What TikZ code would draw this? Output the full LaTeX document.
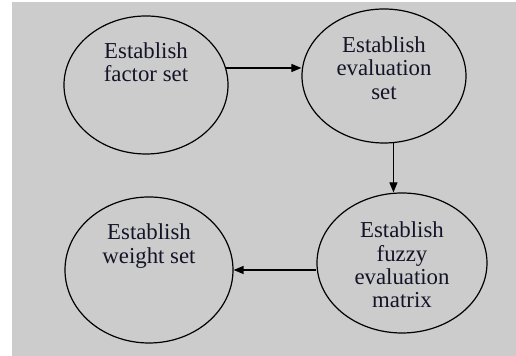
\documentclass[tikz,border=0pt]{standalone}
\usepackage{fontspec}
\setmainfont{Liberation Serif}
\usetikzlibrary{shapes.geometric,arrows.meta}

\definecolor{bggray}{RGB}{204,204,204}
\definecolor{txtblue}{RGB}{20,20,40}

\begin{document}
\begin{tikzpicture}[x=0.5pt,y=-0.5pt,
        stage/.style={draw,ellipse,line width=0.6pt,inner sep=0pt},
        stagetext/.style={align=center,text=txtblue,font=\fontsize{11.4}{11.7}\selectfont},
        flow/.style={-{Triangle[length=5pt,width=4pt]},line width=0.6pt}]
        \useasboundingbox (0,0) rectangle (516,356);
        \fill[bggray] (12,2) rectangle (516,356);
        % the four stages
        \node[stage,minimum width=82pt,minimum height=69pt] (factor) at (146,85) {};
        \node[stage,minimum width=82pt,minimum height=67pt] (evaluation) at (384,76) {};
        \node[stage,minimum width=85pt,minimum height=70pt] (fuzzy) at (402,263) {};
        \node[stage,minimum width=84pt,minimum height=73pt] (weight) at (149,270) {};
        \node[stagetext] (factortext) at (146,62) {Establish\\factor set};
        \node[stagetext] (evaluationtext) at (384,68) {Establish\\evaluation\\set};
        \node[stagetext] (fuzzytext) at (402,265) {Establish\\fuzzy\\evaluation\\matrix};
        \node[stagetext] (weighttext) at (149,246) {Establish\\weight set};
        % connectors
        \draw[flow] (factor.12) -- (factor.12 -| evaluation.west);
        \draw[flow] (evaluation.-82) -- (evaluation.-82 |- fuzzy.north);
        \draw[flow] (fuzzy.west |- weight.east) -- (weight.east);
      \end{tikzpicture}
\end{document}
